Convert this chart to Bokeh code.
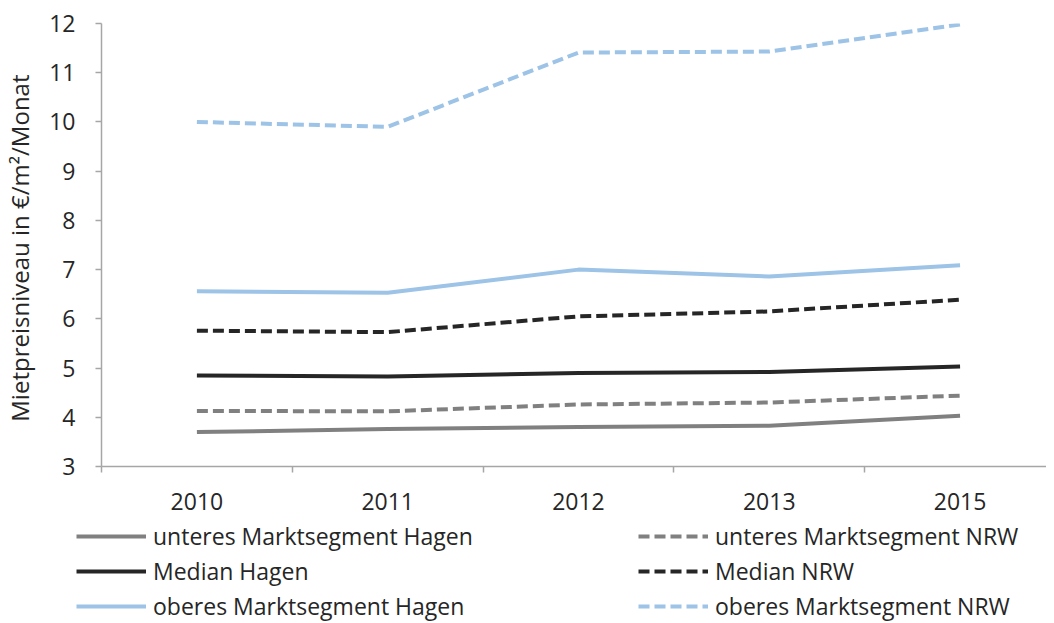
from bokeh.plotting import figure
from bokeh.models import FixedTicker, Legend, LegendItem, Range1d
from bokeh.layouts import column
from bokeh.embed import file_html
from bokeh.resources import INLINE

years = ["2010", "2011", "2012", "2013", "2015"]
unteres_hagen = [3.70, 3.76, 3.80, 3.83, 4.03]
unteres_nrw = [4.13, 4.12, 4.26, 4.30, 4.44]
median_hagen = [4.85, 4.83, 4.90, 4.92, 5.03]
median_nrw = [5.76, 5.73, 6.05, 6.15, 6.39]
oberes_hagen = [6.56, 6.53, 7.00, 6.86, 7.09]
oberes_nrw = [10.00, 9.90, 11.41, 11.43, 11.98]

xs = list(range(len(years)))

FONT = "Open Sans"
TXT = "#262626"
AX = "#A6A6A6"
DASH = "11 5"

W = 1046
H1 = 520
H2 = 102

p = figure(width=W, height=H1, output_backend="svg", toolbar_location=None,
           x_range=Range1d(-0.5, 4.453), y_range=Range1d(3, 12),
           min_border_left=101, min_border_right=0, min_border_top=23,
           min_border_bottom=H1 - 466)
p.outline_line_color = None
p.xgrid.visible = False
p.ygrid.visible = False

series = [
    ("unteres Marktsegment Hagen", unteres_hagen, "#808080", None),
    ("unteres Marktsegment NRW", unteres_nrw, "#808080", DASH),
    ("Median Hagen", median_hagen, "#262626", None),
    ("Median NRW", median_nrw, "#262626", DASH),
    ("oberes Marktsegment Hagen", oberes_hagen, "#9DC3E6", None),
    ("oberes Marktsegment NRW", oberes_nrw, "#9DC3E6", DASH),
]
for name, ys, col, dash in series:
    kw = dict(line_color=col, line_width=4, line_join="round")
    if dash:
        kw["line_dash"] = dash
    p.line(xs, ys, **kw)

# axes
p.xaxis.ticker = FixedTicker(ticks=xs, minor_ticks=[i - 0.5 for i in range(len(years) + 1)])
p.xaxis.major_label_overrides = {i: y for i, y in enumerate(years)}
p.xaxis.major_tick_out = 0
p.xaxis.major_tick_in = 0
p.xaxis.minor_tick_out = 6
p.xaxis.minor_tick_in = 0
p.xaxis.minor_tick_line_color = AX
p.xaxis.minor_tick_line_width = 1.5
p.xaxis.axis_line_color = AX
p.xaxis.axis_line_width = 1.5
p.xaxis.major_label_standoff = 20
p.xaxis.major_label_text_font = FONT
p.xaxis.major_label_text_font_size = "23px"
p.xaxis.major_label_text_color = TXT

p.yaxis.ticker = FixedTicker(ticks=list(range(3, 13)))
p.yaxis.major_tick_out = 6
p.yaxis.major_tick_in = 0
p.yaxis.minor_tick_line_color = None
p.yaxis.major_tick_line_color = AX
p.yaxis.major_tick_line_width = 1.5
p.yaxis.axis_line_color = AX
p.yaxis.axis_line_width = 1.5
p.yaxis.major_label_standoff = 20
p.yaxis.major_label_text_font = FONT
p.yaxis.major_label_text_font_size = "23px"
p.yaxis.major_label_text_color = TXT
p.yaxis.axis_label = "Mietpreisniveau  in €/m²/Monat"
p.yaxis.axis_label_text_font = FONT
p.yaxis.axis_label_text_font_size = "24px"
p.yaxis.axis_label_text_font_style = "normal"
p.yaxis.axis_label_text_color = TXT
p.yaxis.axis_label_standoff = 10

# legend figure (below the chart)
q = figure(width=W, height=H2, output_backend="svg", toolbar_location=None,
           x_range=Range1d(0, 1), y_range=Range1d(0, 1),
           min_border_left=0, min_border_right=0, min_border_top=0,
           min_border_bottom=0)
q.axis.visible = False
q.grid.visible = False
q.outline_line_color = None
aligned = "frame_align" in q.properties()
if aligned:
    q.frame_align = False
    p.frame_align = False
    x_off = 0
else:
    x_off = -101

nan = float("nan")
leg = {}
for name, ys, col, dash in series:
    kw = dict(line_color=col, line_width=4)
    if dash:
        kw["line_dash"] = dash
    leg[name] = q.line([nan], [nan], **kw)


def make_legend(names, x, y):
    lg = Legend(items=[LegendItem(label=n, renderers=[leg[n]]) for n in names],
                location=(x, y), orientation="vertical",
                glyph_width=70, glyph_height=24, label_height=24,
                label_standoff=7, spacing=3, padding=0, margin=0,
                border_line_color=None, background_fill_alpha=0,
                label_text_font=FONT, label_text_font_size="23px",
                label_text_color=TXT)
    q.add_layout(lg, "center")


make_legend(["unteres Marktsegment Hagen", "Median Hagen", "oberes Marktsegment Hagen"],
            76 + x_off, 0)
make_legend(["unteres Marktsegment NRW", "Median NRW", "oberes Marktsegment NRW"],
            638 + x_off, 0)

layout = column(p, q, spacing=0)
open("out.html", "w").write(file_html(layout, INLINE))
